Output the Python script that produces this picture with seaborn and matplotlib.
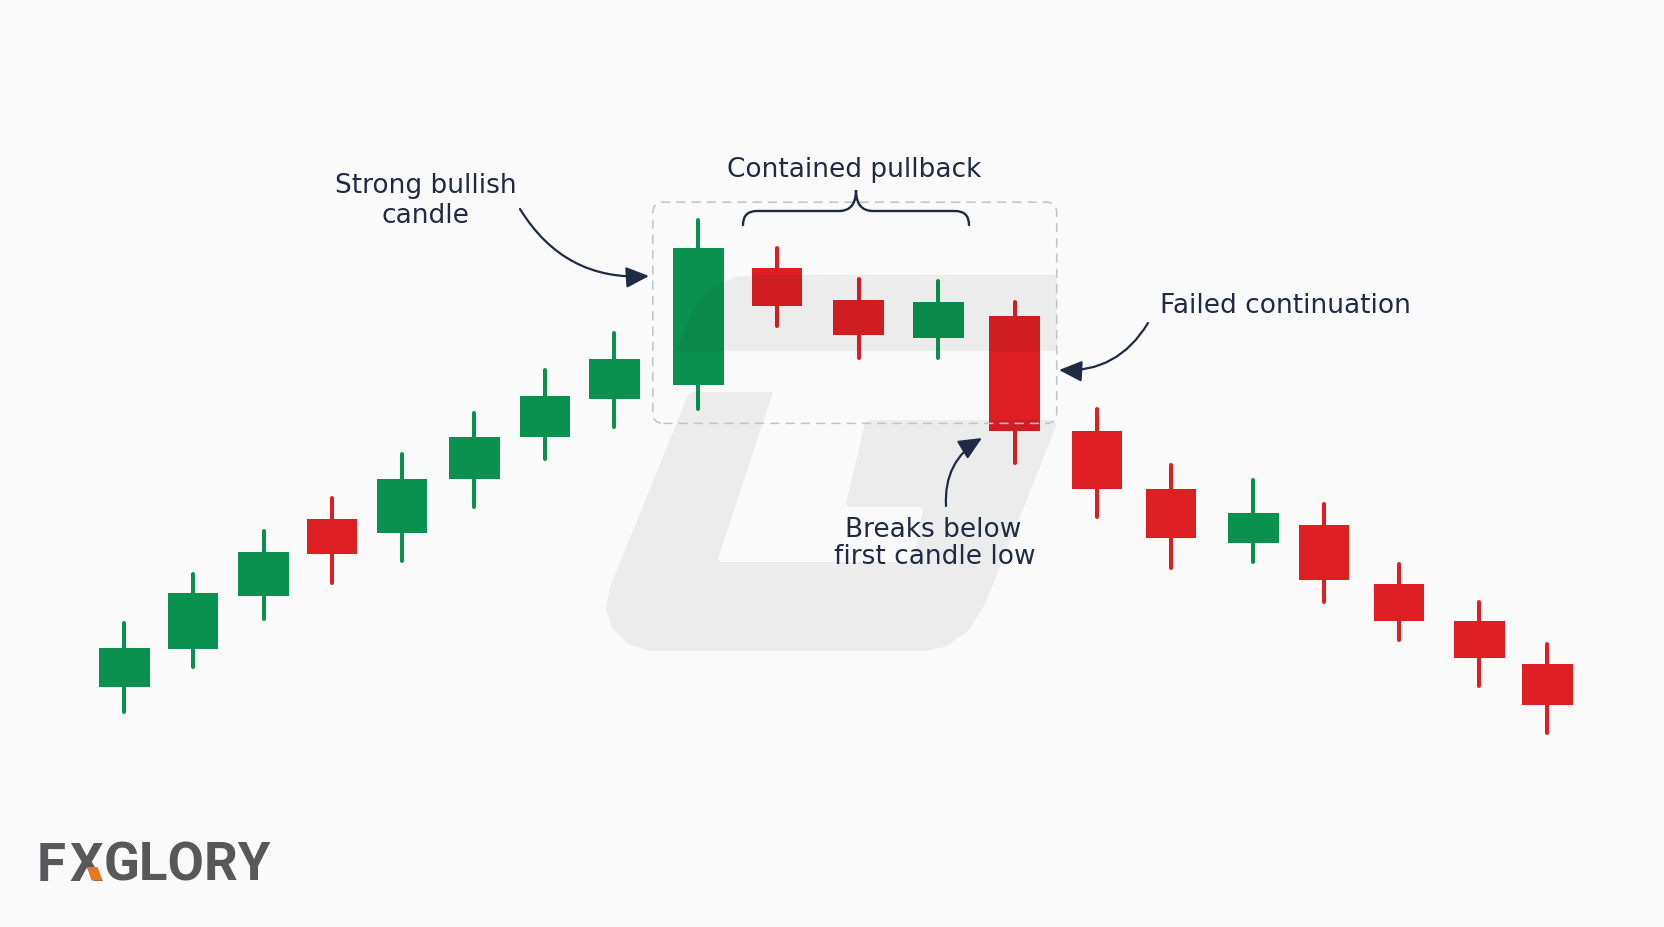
import numpy as np
import pandas as pd
import seaborn as sns
import matplotlib
matplotlib.use("Agg")
import matplotlib.pyplot as plt
from matplotlib.patches import FancyBboxPatch, Polygon, PathPatch
from matplotlib.path import Path
from matplotlib.transforms import Affine2D

# bar times (later bars sit a little further apart) and OHLC prices
t = [0, 0.98, 1.99, 2.97, 3.97, 5.0, 6.01, 7.0, 8.2, 9.32,
     10.49, 11.63, 12.72, 13.9, 14.95, 16.13, 17.14, 18.21, 19.36, 20.33]
o = [60.1, 69.5, 82.7, 102.1, 98.5, 111.9, 122.4, 132.0, 135.6, 164.8,
     156.8, 147.3, 152.7, 124.1, 109.6, 95.9, 100.6, 85.8, 76.6, 65.7]
h = [75.9, 88.2, 99.0, 107.3, 118.3, 128.5, 139.3, 148.4, 176.8, 169.7,
     162.0, 161.4, 156.3, 129.5, 115.4, 111.8, 105.8, 90.8, 81.3, 70.7]
l = [53.7, 64.9, 77.0, 86.0, 91.6, 105.1, 117.1, 125.1, 129.5, 150.3,
     142.3, 142.3, 116.0, 102.6, 89.8, 91.2, 81.2, 71.7, 60.2, 48.6]
c = [69.8, 83.5, 93.7, 93.3, 111.9, 122.5, 132.8, 142.1, 169.8, 155.3,
     148.1, 156.3, 123.9, 109.6, 97.3, 103.4, 86.8, 76.5, 67.3, 55.5]

first_bar = 8   # strong bullish candle
last_bar = 12   # failed continuation candle

BG = "#fafafa"
NAVY = "#1f2b44"
pal = {"up": "#0b914f", "down": "#dd1f24"}

df = pd.DataFrame({"t": t, "open": o, "high": h, "low": l, "close": c})
df["bar"] = range(len(df))
df["dir"] = np.where(df["close"] >= df["open"], "up", "down")
wick = pd.concat([df.assign(price=df["high"]), df.assign(price=df["low"])])

sns.set_theme(style="white")
plt.rcParams["font.family"] = ["DejaVu Sans"]

W, H = 1664, 928
fig = plt.figure(figsize=(W / 100, H / 100), dpi=100, facecolor=BG)
ax = fig.add_axes([0, 0, 1, 1])
ax.set_facecolor(BG)
# pixel coordinates of the picture (y down), used for decoration and notes
px = Affine2D().scale(1 / W, -1 / H).translate(0, 1) + fig.transFigure

# wicks and bodies
sns.lineplot(data=wick, x="t", y="price", units="bar", estimator=None, hue="dir",
             palette=pal, linewidth=2.9, solid_capstyle="round", legend=False,
             sort=False, ax=ax, zorder=2)
ax.bar(df["t"], (df["close"] - df["open"]).abs(),
       bottom=df[["open", "close"]].min(axis=1), width=0.72,
       color=df["dir"].map(pal), linewidth=0, zorder=3)

# watermark logo, a faint shade laid over the candles
g_body = [(688, 396), (693, 393), (773, 393), (718, 560), (721, 563), (910, 563),
          (914, 560), (923, 510), (920, 508), (849, 508), (846, 505), (865, 424),
          (869, 421), (1053, 421), (1057, 425), (998, 573), (985, 605), (968, 632),
          (945, 648), (925, 652), (650, 652), (628, 645), (612, 628), (606, 610),
          (610, 588)]
band = [(678, 352), (684, 330), (695, 308), (712, 289), (735, 278), (755, 276),
        (1057, 276), (1057, 352)]
for poly in (g_body, band):
    ax.add_patch(Polygon(poly, closed=True, transform=px, fc="black", alpha=0.055,
                         ec="none", zorder=3.5))

# dashed box round the setup
x0 = t[first_bar] - 0.65
x1 = t[last_bar] + 0.6
y0 = l[first_bar] - 3.6
y1 = h[first_bar] + 4.4
ax.add_patch(FancyBboxPatch((x0, y0), x1 - x0, y1 - y0,
                            boxstyle="round,pad=0,rounding_size=0.15",
                            mutation_aspect=17.5, fill=False, ec="#b9c4d4",
                            lw=1.1, ls=(0, (6, 4)), zorder=4))

ax.set_xlim(-1.776, 21.996)
ax.set_ylim(0, 232)
ax.axis("off")

# brace over the pullback
verts = [(743, 226), (743, 212), (757, 212), (839, 212), (856, 212), (856, 191),
         (856, 212), (873, 212), (955, 212), (969, 212), (969, 226)]
codes = [Path.MOVETO, Path.CURVE3, Path.CURVE3, Path.LINETO, Path.CURVE3, Path.CURVE3,
         Path.CURVE3, Path.CURVE3, Path.LINETO, Path.CURVE3, Path.CURVE3]
ax.add_patch(PathPatch(Path(verts, codes), transform=px, fill=False, ec=NAVY,
                       lw=1.7, capstyle="round", zorder=5))

# arrows
arrows = [((520, 210), (649, 277), 0.3),
          ((1148, 324), (1059, 371), -0.3),
          ((946, 507), (982, 439), -0.3)]
for tail, tip, rad in arrows:
    ax.annotate("", xy=tip, xycoords=px, xytext=tail, textcoords=px,
                arrowprops=dict(arrowstyle="-|>,head_length=0.7,head_width=0.32",
                                connectionstyle=f"arc3,rad={rad}", color=NAVY,
                                lw=1.6, mutation_scale=20, shrinkA=0, shrinkB=0),
                zorder=5)

labels = [("Strong bullish", 426, 193), ("candle", 425, 223),
          ("Contained pullback", 854, 177), ("Failed continuation", 1285, 313),
          ("Breaks below", 933, 537), ("first candle low", 935, 564)]
for s, x, y in labels:
    ax.text(x, y, s, transform=px, ha="center", va="baseline", fontsize=19,
            color=NAVY, zorder=6)

# brand mark
logo = dict(transform=px, va="baseline", fontsize=38, color="#58585a",
            fontweight="bold", family=["Roboto", "DejaVu Sans"], zorder=6)
ax.text(37, 881, "F", ha="left", **logo)
ax.text(86, 881, "X", ha="center", **logo)
ax.text(104, 881, "GLORY", ha="left", **logo)
ax.add_patch(Polygon([(87, 868), (97.5, 868), (102.5, 881.5), (91.5, 881.5)],
                     closed=True, transform=px, fc="#e8771f", ec="none", zorder=7))

fig.savefig("out.png", dpi=100, facecolor=BG)
